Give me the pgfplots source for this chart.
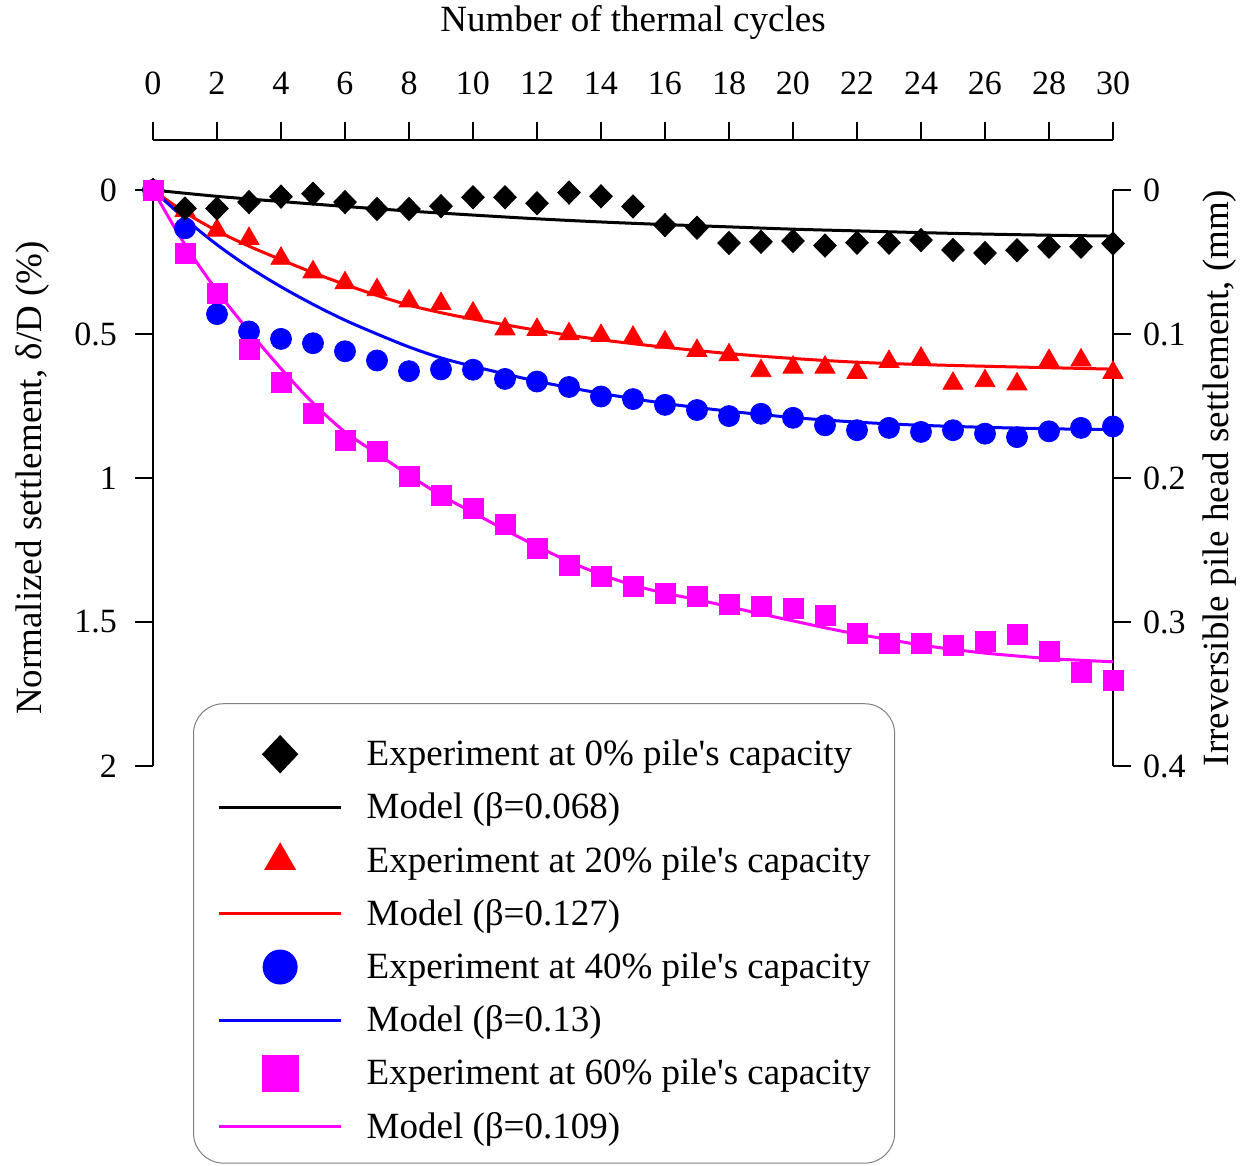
\documentclass[border=0pt]{standalone}
\usepackage{pgfplots}
\pgfplotsset{compat=1.18}
\usepackage{fontspec}
\setmainfont{Liberation Serif}
\definecolor{mred}{RGB}{255,0,0}
\definecolor{mblue}{RGB}{0,0,255}
\definecolor{mmag}{RGB}{255,0,255}
\newcommand{\labfont}{\fontsize{18.5}{22}\selectfont}
\pgfplotsset{
  common/.style={
    at={(0,0)}, anchor=south west, scale only axis, width=480pt,
    xmin=0, xmax=30,
    /pgf/number format/assume math mode=true,
    tick label style={font=\fontsize{17}{19}\selectfont},
    tick align=outside, major tick length=9pt,
    every tick/.style={black, line width=1pt},
    axis line style={black, line width=1pt},
  }
}
\begin{document}
\begin{tikzpicture}
\useasboundingbox (-76.5pt,-200pt) rectangle (548pt,383pt);
% top x axis
\begin{axis}[common, height=313pt, ymin=0, ymax=1,
  axis x line*=top, axis y line=none,
  xtick={0,2,4,6,8,10,12,14,16,18,20,22,24,26,28,30},
  xticklabel style={yshift=10pt},
  xlabel={Number of thermal cycles},
  every axis x label/.style={at={(axis description cs:0.5,1.188)}, anchor=center, font=\labfont},
]
\end{axis}
% right y axis
\begin{axis}[common, height=288pt, ymin=0, ymax=0.4, y dir=reverse,
  axis y line*=right, axis x line=none,
  ytick={0,0.1,0.2,0.3,0.4},
  yticklabel style={xshift=2.5pt},
  ylabel={Irreversible pile head settlement, (mm)},
  every axis y label/.style={at={(axis description cs:1.111,0.5)}, rotate=90, anchor=center, font=\labfont},
]
\end{axis}
% main axis
\begin{axis}[common, height=288pt, ymin=0, ymax=2, y dir=reverse,
  axis y line*=left, axis x line=none, clip=false,
  ytick={0,0.5,1,1.5,2},
  yticklabel style={xshift=-5.5pt},
  ylabel={Normalized settlement, δ/D (\%)},
  every axis y label/.style={at={(axis description cs:-0.125,0.5)}, rotate=90, anchor=center, font=\labfont},
  legend style={at={(axis description cs:0.0417,0.109)}, anchor=north west,
    draw=gray, rounded corners=15pt, line width=0.5pt,
    font=\fontsize{18.5}{22}\selectfont,
    inner xsep=12pt, inner ysep=7.5pt, row sep=-1.9pt, column sep=12pt,
    nodes={inner sep=0pt, text height=23.5pt, text depth=5pt}},
  legend cell align=left,
  legend image code/.code={\draw[mark repeat=2,mark phase=2,#1] plot coordinates {(0pt,-3.5pt) (30.5pt,-3.5pt) (61pt,-3.5pt)};},
]
% model curves
\addplot[black, line width=1.5pt, smooth, forget plot] coordinates {
(0,0) (2,0.022) (4,0.040) (6,0.057) (8,0.073) (10,0.087) (12,0.100) (14,0.111) (16,0.120) (18,0.128) (20,0.136) (22,0.142) (24,0.148) (26,0.153) (28,0.157) (30,0.160)};
\addplot[mred, line width=1.5pt, smooth, forget plot] coordinates {
(0,0) (1,0.078) (2,0.142) (3,0.195) (4,0.242) (5,0.287) (6,0.328) (7,0.366) (8,0.400) (9,0.426) (10,0.448) (12,0.487) (14,0.520) (16,0.546) (18,0.568) (20,0.585) (22,0.598) (24,0.606) (26,0.612) (28,0.617) (30,0.622)};
\addplot[mblue, line width=1.5pt, smooth, forget plot] coordinates {
(0,0) (1,0.10) (2,0.19) (3,0.268) (4,0.336) (5,0.397) (6,0.452) (7,0.50) (8,0.545) (9,0.583) (10,0.612) (12,0.664) (14,0.706) (16,0.741) (18,0.768) (20,0.790) (22,0.806) (24,0.817) (26,0.824) (28,0.829) (30,0.832)};
\addplot[mmag, line width=1.5pt, smooth, forget plot] coordinates {
(0,0) (1,0.19) (2,0.35) (3,0.49) (4,0.62) (5,0.74) (6,0.84) (7,0.915) (8,0.99) (9,1.06) (10,1.12) (11,1.18) (12,1.237) (13,1.29) (14,1.335) (15,1.372) (16,1.400) (17,1.422) (18,1.447) (19,1.472) (20,1.496) (21,1.520) (22,1.542) (23,1.561) (24,1.580) (25,1.595) (26,1.608) (27,1.618) (28,1.627) (29,1.633) (30,1.638)};
% experiments
\addplot[only marks, mark=triangle*, mark size=5.8pt, mred, mark options={fill=mred, draw=mred}, forget plot] coordinates {
(0,0) (1,0.072) (2,0.140) (3,0.169) (4,0.238) (5,0.285) (6,0.323) (7,0.347) (8,0.386) (9,0.395) (10,0.428) (11,0.483) (12,0.485) (13,0.500) (14,0.506) (15,0.512) (16,0.529) (17,0.558) (18,0.573) (19,0.628) (20,0.616) (21,0.616) (22,0.634) (23,0.596) (24,0.585) (25,0.672) (26,0.663) (27,0.674) (28,0.593) (29,0.591) (30,0.634)};
\addplot[only marks, mark=*, mark size=5.25pt, mblue, mark options={fill=mblue, draw=mblue}, forget plot] coordinates {
(0,0) (1,0.133) (2,0.431) (3,0.491) (4,0.517) (5,0.532) (6,0.560) (7,0.592) (8,0.629) (9,0.623) (10,0.624) (11,0.656) (12,0.665) (13,0.684) (14,0.717) (15,0.726) (16,0.746) (17,0.764) (18,0.785) (19,0.777) (20,0.791) (21,0.817) (22,0.834) (23,0.826) (24,0.840) (25,0.834) (26,0.846) (27,0.858) (28,0.838) (29,0.826) (30,0.821)};
\addplot[only marks, mark=diamond*, mark size=5.8pt, black, mark options={fill=black, draw=black, xscale=1.3}, forget plot] coordinates {
(0,0) (1,0.064) (2,0.064) (3,0.042) (4,0.023) (5,0.013) (6,0.042) (7,0.066) (8,0.066) (9,0.056) (10,0.025) (11,0.025) (12,0.046) (13,0.009) (14,0.022) (15,0.057) (16,0.122) (17,0.131) (18,0.184) (19,0.180) (20,0.177) (21,0.193) (22,0.183) (23,0.183) (24,0.174) (25,0.208) (26,0.219) (27,0.209) (28,0.197) (29,0.197) (30,0.186)};
\addplot[only marks, mark=square*, mark size=5pt, mmag, mark options={fill=mmag, draw=mmag}, forget plot] coordinates {
(0,0) (1,0.219) (2,0.358) (3,0.555) (4,0.668) (5,0.776) (6,0.869) (7,0.907) (8,0.993) (9,1.061) (10,1.105) (11,1.162) (12,1.243) (13,1.303) (14,1.342) (15,1.378) (16,1.400) (17,1.412) (18,1.440) (19,1.446) (20,1.452) (21,1.478) (22,1.538) (23,1.576) (24,1.573) (25,1.581) (26,1.567) (27,1.542) (28,1.601) (29,1.676) (30,1.703)};
% legend
\addlegendimage{legend image code/.code={\path[mark=diamond*, mark size=9.25pt, mark options={fill=black, draw=black, xscale=1.26}] plot coordinates {(30.5pt,-3.5pt)};}}
\addlegendentry{Experiment at 0\% pile\textquotesingle s capacity}
\addlegendimage{black, line width=1.6pt}
\addlegendentry{Model (β=0.068)}
\addlegendimage{legend image code/.code={\path[mark=triangle*, mark size=8.7pt, mark options={fill=mred, draw=mred}] plot coordinates {(30.5pt,-3.5pt)};}}
\addlegendentry{Experiment at 20\% pile\textquotesingle s capacity}
\addlegendimage{mred, line width=1.6pt}
\addlegendentry{Model (β=0.127)}
\addlegendimage{legend image code/.code={\path[mark=*, mark size=8.5pt, mark options={fill=mblue, draw=mblue}] plot coordinates {(30.5pt,-3.5pt)};}}
\addlegendentry{Experiment at 40\% pile\textquotesingle s capacity}
\addlegendimage{mblue, line width=1.6pt}
\addlegendentry{Model (β=0.13)}
\addlegendimage{legend image code/.code={\path[mark=square*, mark size=9pt, mark options={fill=mmag, draw=mmag}] plot coordinates {(30.5pt,-3.5pt)};}}
\addlegendentry{Experiment at 60\% pile\textquotesingle s capacity}
\addlegendimage{mmag, line width=1.6pt}
\addlegendentry{Model (β=0.109)}
\end{axis}
\end{tikzpicture}
\end{document}
